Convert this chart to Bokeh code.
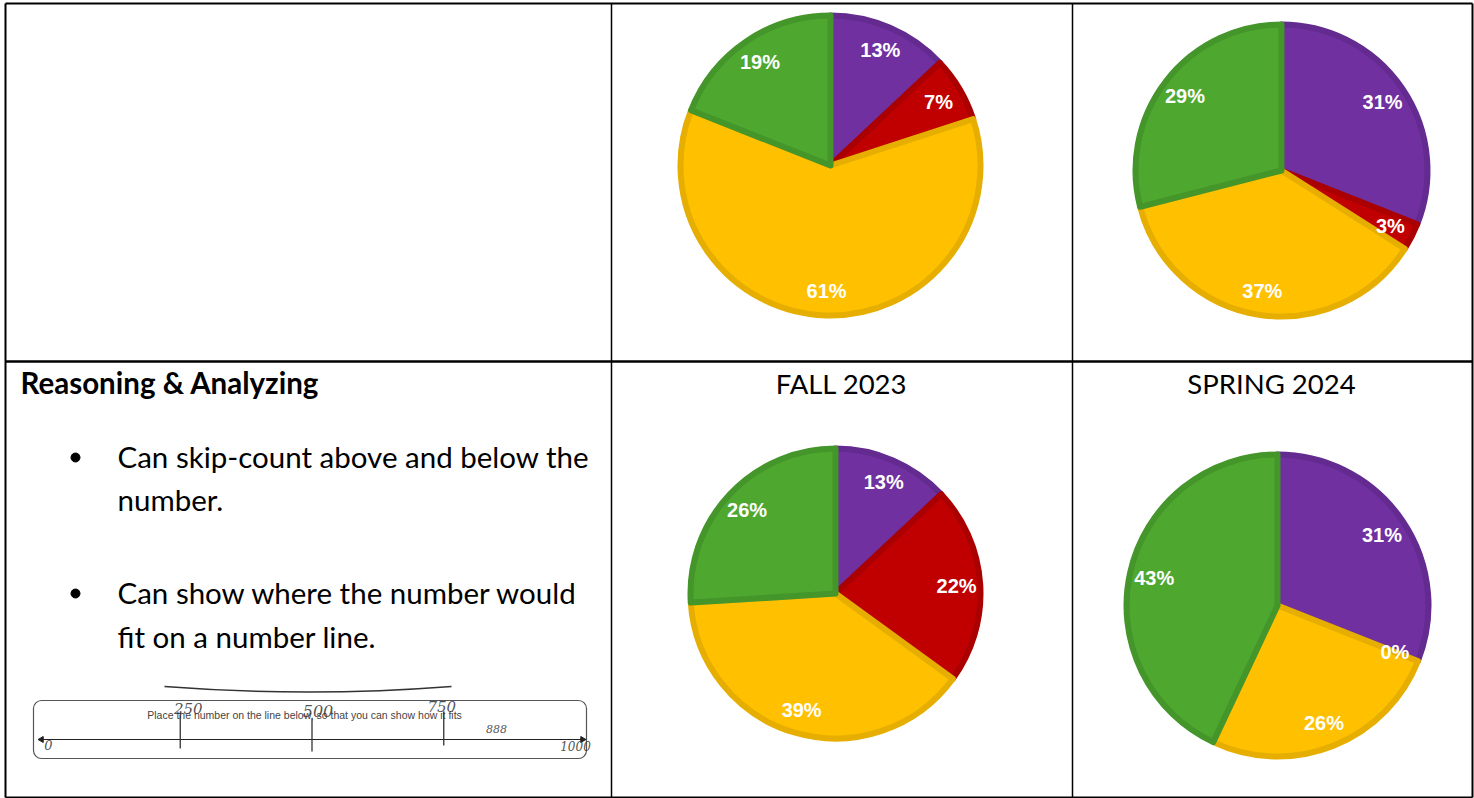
import math
from bokeh.plotting import figure
from bokeh.models import Range1d
from bokeh.core.properties import value
from bokeh.embed import file_html
from bokeh.resources import INLINE

# ---------------- data ----------------
categories = ["Purple", "Red", "Yellow", "Green"]
top_middle = [13, 7, 61, 19]
top_right = [31, 3, 37, 29]
fall_2023 = [13, 22, 39, 26]
spring_2024 = [31, 0, 26, 43]
column_titles = ["FALL 2023", "SPRING 2024"]
heading = "Reasoning & Analyzing"
bullet_lines = [["Can skip-count above and below the", "number."],
                ["Can show where the number would", "fit on a number line."]]
worksheet_prompt = "Place the number on the line below, so that you can show how it fits"
number_line_marks = [0, 250, 500, 750, 888, 1000]
number_line_max = 1000

fill_colors = ["#7030A0", "#C00000", "#FFC000", "#4EA72E"]
edge_colors = ["#632A8F", "#AA0000", "#E6AE00", "#44952A"]

W, H = 1474, 798
TXT_SHIFT = 11  # compensate svg alphabetic baseline placement


def Y(yr):
    # reference pixel row -> data y (y up)
    return H - yr


p = figure(width=W, height=H, x_range=Range1d(0, W), y_range=Range1d(0, H),
           output_backend="svg", toolbar_location=None, min_border=0)
p.axis.visible = False
p.grid.visible = False
p.outline_line_color = None
p.background_fill_color = "white"
p.border_fill_color = "white"

# ---------------- table borders ----------------
p.segment(x0=[5, 5, 5, 1472], y0=[Y(3), Y(3), Y(797), Y(3)],
          x1=[1472, 5, 1472, 1472], y1=[Y(3), Y(797), Y(797), Y(797)],
          line_color="black", line_width=2)
p.segment(x0=[5], y0=[Y(361)], x1=[1472], y1=[Y(361)], line_color="black", line_width=2.5)
p.segment(x0=[611, 1072], y0=[Y(3), Y(3)], x1=[611, 1072], y1=[Y(797), Y(797)],
          line_color="black", line_width=1.5)

# ---------------- pies ----------------
pies = [(top_middle, 830, 165, 153),
        (top_right, 1281, 170, 149),
        (fall_2023, 835, 593, 148),
        (spring_2024, 1277, 605, 154)]

for vals, cx, cy, r in pies:
    total = float(sum(vals))
    cum = 0.0
    xs, ys, rs, sa, ea, fc, lc = [], [], [], [], [], [], []
    lx, ly, lt = [], [], []
    for v, f, e in zip(vals, fill_colors, edge_colors):
        a0 = cum / total
        a1 = (cum + v) / total
        mid = (a0 + a1) / 2 * 2 * math.pi
        if v > 0:
            xs.append(cx); ys.append(Y(cy)); rs.append(r - 3)
            sa.append(math.pi / 2 - a0 * 2 * math.pi)
            ea.append(math.pi / 2 - a1 * 2 * math.pi)
            fc.append(f); lc.append(e)
        lx.append(cx + 0.82 * r * math.sin(mid))
        ly.append(Y(cy) + 0.82 * r * math.cos(mid))
        lt.append(f"{v}%")
        cum += v
    p.wedge(x=xs, y=ys, radius=rs, start_angle=sa, end_angle=ea, direction="clock",
            fill_color=fc, line_color=lc, line_width=6, line_join="round")
    p.text(x=lx, y=ly, text=lt, text_color="white", text_font=value("Liberation Sans"),
           text_font_style="bold", text_font_size="20px", text_align="center",
           text_baseline="middle")

# ---------------- column titles ----------------
p.text(x=[841, 1271], y=[Y(394 - TXT_SHIFT), Y(394 - TXT_SHIFT)], text=column_titles,
       text_color="black", text_font=value("Lato"), text_font_size="27.5px",
       text_align="center", text_baseline="alphabetic")

# ---------------- left text ----------------
p.text(x=[20], y=[Y(393 - TXT_SHIFT)], text=[heading], text_color="black",
       text_font=value("Lato"), text_font_style="bold", text_font_size="29.5px",
       text_align="left", text_baseline="alphabetic")

bx, by = [], []
tx, ty, tt = [], [], []
baselines = [[467, 510], [603, 647]]
for lines, bl in zip(bullet_lines, baselines):
    bx.append(75); by.append(Y(bl[0] - 10))
    for t, b in zip(lines, bl):
        tx.append(117); ty.append(Y(b - TXT_SHIFT)); tt.append(t)
p.scatter(x=bx, y=by, size=9, marker="circle", fill_color="black", line_color="black")
p.text(x=tx, y=ty, text=tt, text_color="black", text_font=value("Lato"),
       text_font_size="29.5px", text_align="left", text_baseline="alphabetic")

# ---------------- scanned number line (redrawn) ----------------
line_x0, line_x1, line_y = 38, 585, 739
p.quad(left=[33], right=[586], bottom=[Y(758)], top=[Y(700)], fill_color=None,
       line_color="#555555", line_width=1.2, border_radius=8)
# curved stroke above the box
p.quadratic(x0=[164], y0=[Y(686)], x1=[451], y1=[Y(686)], cx=[307], cy=[Y(697)],
            line_color="#333333", line_width=1.5)
p.text(x=[304], y=[Y(714)], text=[worksheet_prompt], text_color="#444444",
       text_font=value("Liberation Sans"), text_font_size="10.5px", text_align="center",
       text_baseline="middle")
p.segment(x0=[line_x0], y0=[Y(line_y)], x1=[line_x1], y1=[Y(line_y)], line_color="#222222",
          line_width=1.2)
p.scatter(x=[line_x0 + 3, line_x1 - 3], y=[Y(line_y), Y(line_y)], marker="triangle",
          angle=[math.pi / 2, -math.pi / 2], size=6, fill_color="#222222", line_color="#222222")

mx = [line_x0 + 10 + (line_x1 - line_x0 - 20) * m / number_line_max for m in number_line_marks]
tick_idx = [1, 2, 3]
p.segment(x0=[mx[i] for i in tick_idx], y0=[Y(714), Y(718), Y(711)],
          x1=[mx[i] for i in tick_idx], y1=[Y(748), Y(751), Y(745)],
          line_color="#333333", line_width=1.3)
hand_y = [744, 708, 710, 706, 728, 745]
hand_dx = [0, 8, 6, -2, -20, 0]
hand_size = ["13px", "15px", "16px", "15px", "11px", "12px"]
for m, x, hy, dx, sz in zip(number_line_marks, mx, hand_y, hand_dx, hand_size):
    p.text(x=[x + dx if m != 0 else 48], y=[Y(hy)], text=[str(m)], text_color="#333333",
           text_font=value("DejaVu Serif"), text_font_style="italic", text_font_size=sz,
           text_align="center", text_baseline="middle", text_alpha=0.85)

open("out.html", "w").write(file_html(p, INLINE))
